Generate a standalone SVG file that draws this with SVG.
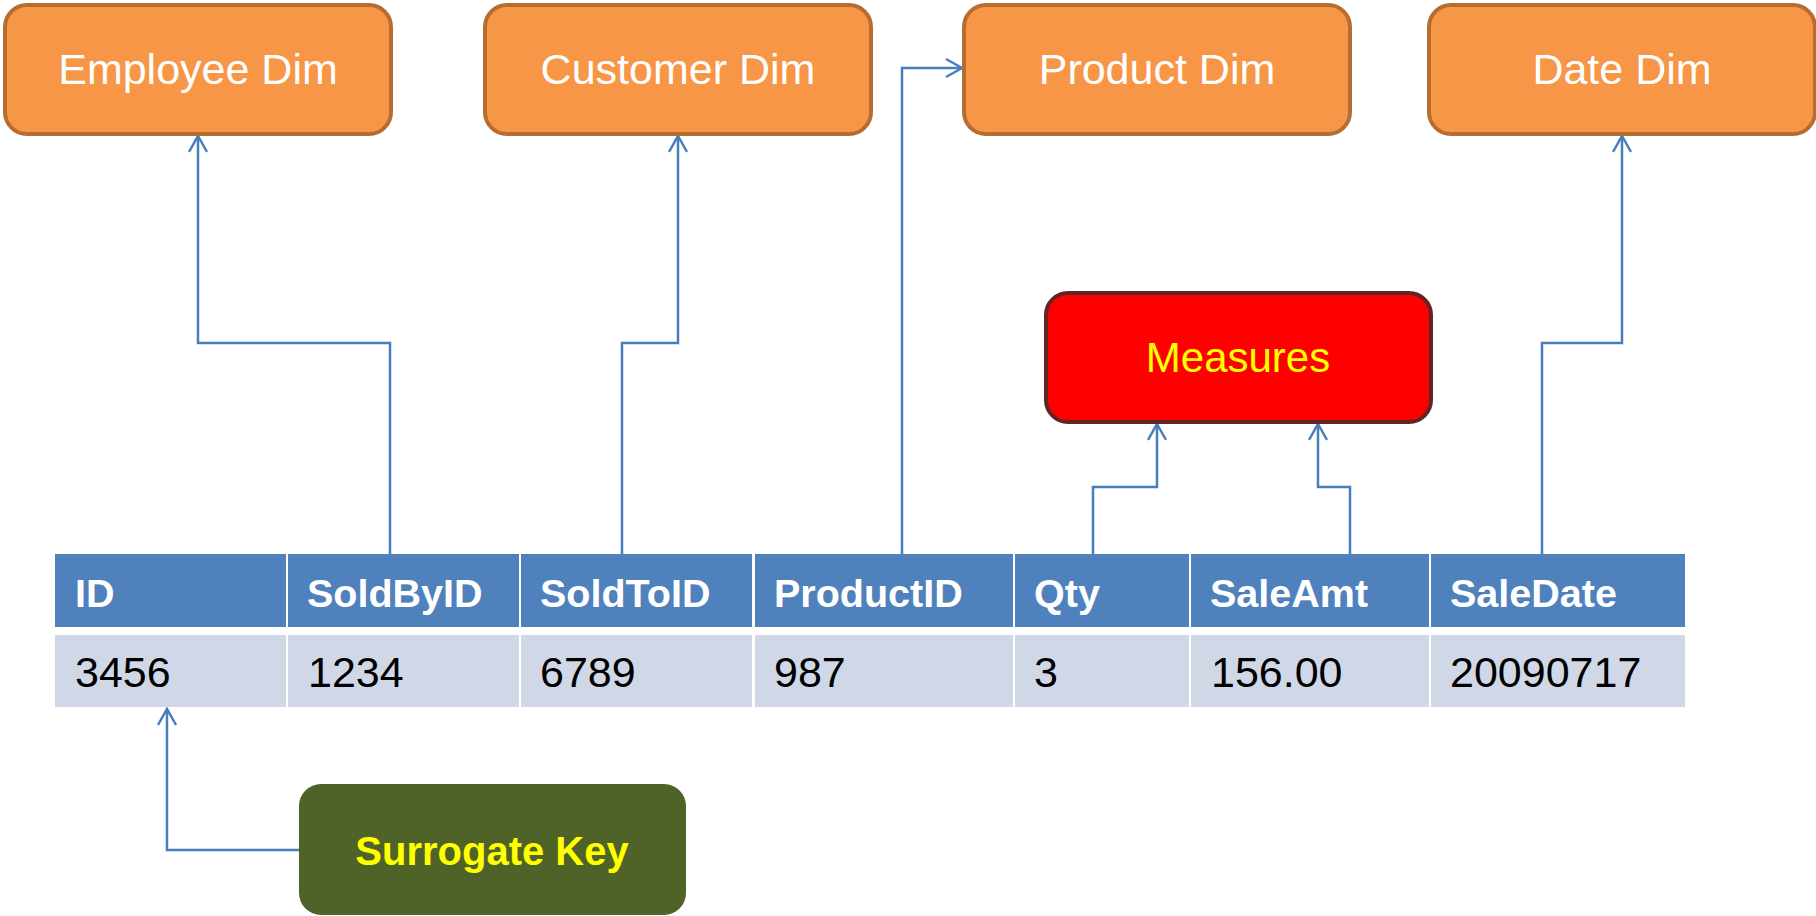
<svg xmlns="http://www.w3.org/2000/svg" width="1816" height="916" viewBox="0 0 1816 916">
<style>
.dim{fill:#F79646;stroke:#B66D31;stroke-width:4}
.dimt{font-family:"Liberation Sans",Arial,sans-serif;font-size:43px;fill:#FFFFFF;text-anchor:middle}
.hd{fill:#4F81BD}
.dt{fill:#D0D8E8}
.hdt{font-family:"Liberation Sans",Arial,sans-serif;font-size:39.5px;font-weight:bold;fill:#FFFFFF}
.dtt{font-family:"Liberation Sans",Arial,sans-serif;font-size:43px;fill:#000000}
.conn{fill:none;stroke:#4A7EBB;stroke-width:2.5;marker-end:url(#arr)}
</style>
<defs>
<marker id="arr" viewBox="0 0 20 20" refX="18" refY="10" markerWidth="20" markerHeight="20" markerUnits="userSpaceOnUse" orient="auto">
<path d="M2,1 L18,10 L2,19" fill="none" stroke="#4A7EBB" stroke-width="2.5"/>
</marker>
</defs>
<rect width="1816" height="916" fill="#FFFFFF"/>
<g id="connectors">
<path class="conn" d="M390,554 V343 H198 V136"/>
<path class="conn" d="M622,554 V343 H678 V136"/>
<path class="conn" d="M902,554 V68 H962"/>
<path class="conn" d="M1542,554 V343 H1622 V136"/>
<path class="conn" d="M1093,554 V487 H1157 V424"/>
<path class="conn" d="M1350,554 V487 H1318 V424"/>
<path class="conn" d="M299,850 H167 V709"/>
</g>
<g id="employee-dim"><rect class="dim" x="5" y="5" width="386" height="129" rx="22"/><text class="dimt" x="198" y="84">Employee Dim</text></g>
<g id="customer-dim"><rect class="dim" x="485" y="5" width="386" height="129" rx="22"/><text class="dimt" x="678" y="84">Customer Dim</text></g>
<g id="product-dim"><rect class="dim" x="964" y="5" width="386" height="129" rx="22"/><text class="dimt" x="1157" y="84">Product Dim</text></g>
<g id="date-dim"><rect class="dim" x="1429" y="5" width="386" height="129" rx="22"/><text class="dimt" x="1622" y="84">Date Dim</text></g>
<g id="measures"><rect x="1046" y="293" width="385" height="129" rx="22" fill="#FF0000" stroke="#632523" stroke-width="4"/><text x="1238" y="372" font-family="Liberation Sans, Arial, sans-serif" font-size="42" fill="#FFFF00" text-anchor="middle">Measures</text></g>
<g id="surrogate-key"><rect x="299" y="784" width="387" height="131" rx="22" fill="#4F6228"/><text x="492" y="865" font-family="Liberation Sans, Arial, sans-serif" font-size="40" font-weight="bold" fill="#FFFF00" text-anchor="middle">Surrogate Key</text></g>
<g id="fact-table">
<rect class="hd" x="55" y="554" width="231" height="73"/>
<rect class="hd" x="288" y="554" width="231" height="73"/>
<rect class="hd" x="521" y="554" width="231" height="73"/>
<rect class="hd" x="755" y="554" width="258" height="73"/>
<rect class="hd" x="1015" y="554" width="174" height="73"/>
<rect class="hd" x="1191" y="554" width="238" height="73"/>
<rect class="hd" x="1431" y="554" width="254" height="73"/>
<rect class="dt" x="55" y="635" width="231" height="72"/>
<rect class="dt" x="288" y="635" width="231" height="72"/>
<rect class="dt" x="521" y="635" width="231" height="72"/>
<rect class="dt" x="755" y="635" width="258" height="72"/>
<rect class="dt" x="1015" y="635" width="174" height="72"/>
<rect class="dt" x="1191" y="635" width="238" height="72"/>
<rect class="dt" x="1431" y="635" width="254" height="72"/>
<text class="hdt" x="75" y="607">ID</text>
<text class="hdt" x="307" y="607">SoldByID</text>
<text class="hdt" x="540" y="607">SoldToID</text>
<text class="hdt" x="774" y="607">ProductID</text>
<text class="hdt" x="1034" y="607">Qty</text>
<text class="hdt" x="1210" y="607">SaleAmt</text>
<text class="hdt" x="1450" y="607">SaleDate</text>
<text class="dtt" x="75" y="687">3456</text>
<text class="dtt" x="308" y="687">1234</text>
<text class="dtt" x="540" y="687">6789</text>
<text class="dtt" x="774" y="687">987</text>
<text class="dtt" x="1034" y="687">3</text>
<text class="dtt" x="1211" y="687">156.00</text>
<text class="dtt" x="1450" y="687">20090717</text>
</g>
</svg>
